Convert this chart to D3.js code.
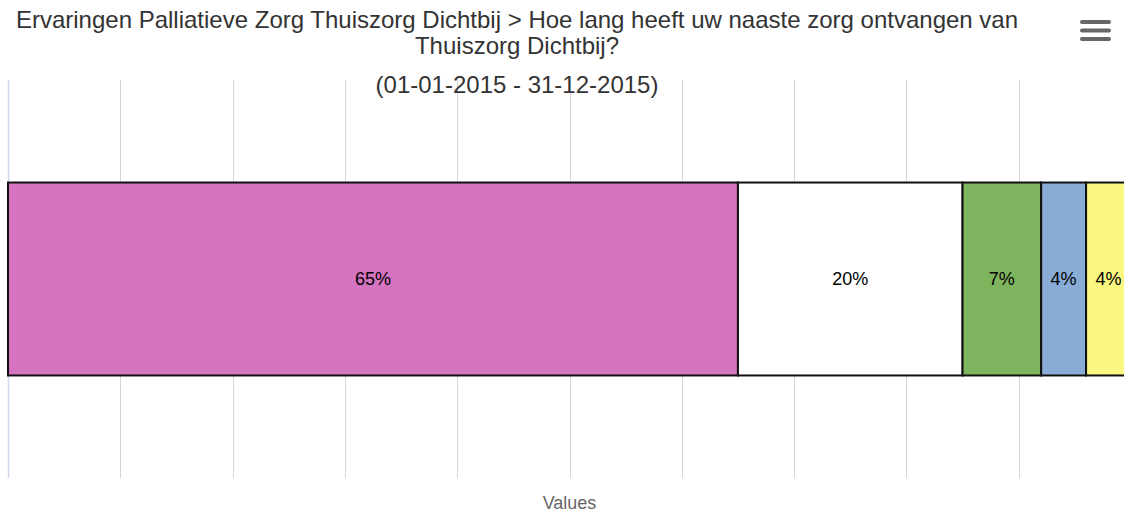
<!DOCTYPE html>
<html>
<head>
<meta charset="utf-8">
<script src="https://cdn.jsdelivr.net/npm/d3@7"></script>
<style>
  body { margin: 0; background: #fff; overflow: hidden; }
  text { font-family: "Liberation Sans", Arial, sans-serif; }
</style>
</head>
<body>
<div id="chart"></div>
<script>
// values per segment (percent), left to right
var segNames = ["a", "b", "c", "d", "e"];
var segValues = [65, 20, 7, 4, 4];
var segColors = ["#d473c0", "#ffffff", "#7fb45e", "#89acd7", "#f9f77f"];
var gridTicks = [0, 10, 20, 30, 40, 50, 60, 70, 80, 90, 100];
var titleLines = ["Ervaringen Palliatieve Zorg Thuiszorg Dichtbij > Hoe lang heeft uw naaste zorg ontvangen van", "Thuiszorg Dichtbij?"];
var subtitle = "(01-01-2015 - 31-12-2015)";
var axisTitle = "Values";

var width = 1124, height = 513;
var plot = {left: 8, right: 1131, top: 80, bottom: 478};

var svg = d3.select("#chart").append("svg")
    .attr("width", width)
    .attr("height", height);

var x = d3.scaleLinear().domain([0, 100]).range([plot.left, plot.right]);
var y = d3.scaleBand().domain(["Values"]).range([plot.top, plot.bottom]).padding(0.347);

// grid lines
svg.append("g").selectAll("line").data(gridTicks.slice(1)).enter().append("line")
    .attr("x1", function(d) { return Math.round(x(d)) + 0.5; })
    .attr("x2", function(d) { return Math.round(x(d)) + 0.5; })
    .attr("y1", plot.top).attr("y2", plot.bottom)
    .attr("stroke", "#d6d6d6").attr("stroke-width", 1);

// axis line
svg.append("line")
    .attr("x1", x(0) + 0.5).attr("x2", x(0) + 0.5)
    .attr("y1", plot.top).attr("y2", plot.bottom)
    .attr("stroke", "#ccd6eb").attr("stroke-width", 1.5);

// stack the segments
var segs = [], acc = 0;
segValues.forEach(function(v, i) {
  segs.push({name: segNames[i], value: v, x0: acc, x1: acc + v, color: segColors[i]});
  acc += v;
});

var bars = svg.append("g");
bars.selectAll("rect").data(segs).enter().append("rect")
    .attr("x", function(d) { return x(d.x0); })
    .attr("width", function(d) { return x(d.x1) - x(d.x0); })
    .attr("y", y("Values"))
    .attr("height", y.bandwidth())
    .attr("fill", function(d) { return d.color; })
    .attr("stroke", "#111")
    .attr("stroke-width", 2);

bars.selectAll("text").data(segs).enter().append("text")
    .attr("x", function(d) { return (x(d.x0) + x(d.x1)) / 2; })
    .attr("y", y("Values") + y.bandwidth() / 2)
    .attr("dy", "0.35em")
    .attr("text-anchor", "middle")
    .attr("font-size", "18px")
    .attr("fill", "#000")
    .text(function(d) { return d.value + "%"; });

// title
var title = svg.append("text")
    .attr("text-anchor", "middle")
    .attr("font-size", "24px")
    .attr("fill", "#333");
titleLines.forEach(function(t, i) {
  title.append("tspan").attr("x", 517).attr("y", 28 + i * 26).text(t);
});
svg.append("text")
    .attr("x", 517).attr("y", 93)
    .attr("text-anchor", "middle")
    .attr("font-size", "24px")
    .attr("fill", "#333")
    .text(subtitle);

// axis title
svg.append("text")
    .attr("x", (plot.left + plot.right) / 2).attr("y", 509)
    .attr("text-anchor", "middle")
    .attr("font-size", "18px")
    .attr("fill", "#666")
    .text(axisTitle);

// menu button
svg.append("g").selectAll("line").data([22, 30.5, 39]).enter().append("line")
    .attr("x1", 1082).attr("x2", 1109)
    .attr("y1", function(d) { return d; }).attr("y2", function(d) { return d; })
    .attr("stroke", "#666").attr("stroke-width", 4).attr("stroke-linecap", "round");
</script>
</body>
</html>
